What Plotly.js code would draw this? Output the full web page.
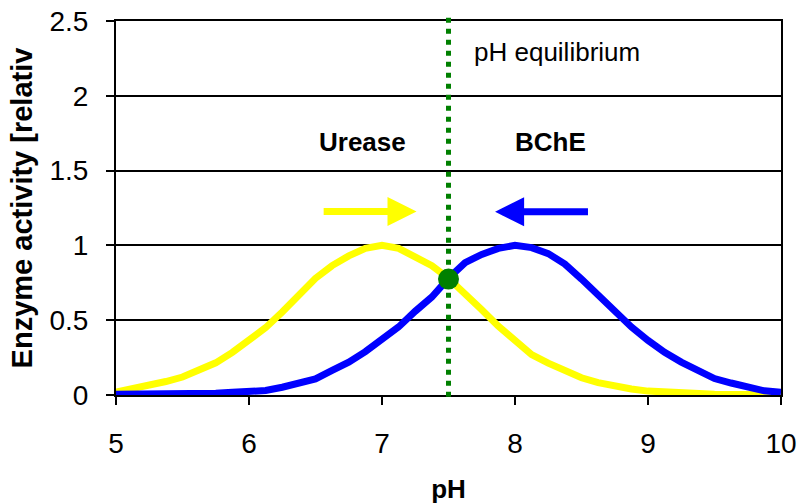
<!DOCTYPE html>
<html>
<head>
<meta charset="utf-8">
<script src="https://cdn.plot.ly/plotly-3.0.1.min.js"></script>
<style>
  html, body { margin: 0; padding: 0; background: #ffffff; }
  #chart { width: 801px; height: 504px; }
</style>
</head>
<body>
<div id="chart"></div>
<script>
// ---- data ----
const pH = [5, 5.125, 5.25, 5.375, 5.5, 5.625, 5.75, 5.875, 6, 6.125, 6.25, 6.375, 6.5, 6.625, 6.75, 6.875,
            7, 7.125, 7.25, 7.375, 7.5, 7.625, 7.75, 7.875, 8, 8.125, 8.25, 8.375, 8.5, 8.625, 8.75, 8.875,
            9, 9.125, 9.25, 9.375, 9.5, 9.625, 9.75, 9.875, 10];
const urease = [0.02, 0.04, 0.065, 0.09, 0.12, 0.165, 0.215, 0.285, 0.37, 0.45, 0.555, 0.66, 0.78, 0.865, 0.93, 0.98,
                1.0, 0.98, 0.925, 0.865, 0.78, 0.68, 0.57, 0.46, 0.36, 0.27, 0.213, 0.16, 0.115, 0.083, 0.06, 0.04,
                0.026, 0.018, 0.012, 0.008, 0.005, 0.004, 0.003, 0.003, 0.003];
const bche = [0.005, 0.005, 0.005, 0.005, 0.005, 0.005, 0.012, 0.018, 0.02, 0.03, 0.052, 0.077, 0.108, 0.165, 0.22, 0.29,
              0.375, 0.455, 0.56, 0.655, 0.78, 0.885, 0.94, 0.98, 1.0, 0.985, 0.945, 0.875, 0.775, 0.665, 0.56, 0.455,
              0.365, 0.285, 0.22, 0.16, 0.11, 0.08, 0.05, 0.028, 0.018];
const equilibriumPH = [7.5];
const equilibriumActivity = [0.775];
const xTicks = [5, 6, 7, 8, 9, 10];
const yTicks = [0, 0.5, 1, 1.5, 2, 2.5];
const yTickLabels = ['0', '0.5', '1', '1.5', '2', '2.5'];
// arrows: [tail pH, head pH, activity level]
const ureaseArrow = [6.55, 7.26, 1.227];
const bcheArrow = [8.56, 7.85, 1.225];
const labelText = { urease: 'Urease', bche: 'BChE', eq: 'pH equilibrium' };
const labelPos = { urease: [6.85, 1.69], bche: [8.27, 1.69], eq: [7.673, 2.293] };

const FONT = 'Liberation Sans, Arial, sans-serif';

const traces = [
  { x: pH, y: urease, type: 'scatter', mode: 'lines', name: 'Urease',
    line: { color: '#FFFF00', width: 7 }, hoverinfo: 'skip' },
  { x: pH, y: bche, type: 'scatter', mode: 'lines', name: 'BChE',
    line: { color: '#0000FF', width: 7 }, hoverinfo: 'skip' },
  { x: equilibriumPH, y: equilibriumActivity, type: 'scatter', mode: 'markers', name: 'equilibrium',
    marker: { color: '#008000', size: 21 }, cliponaxis: false, hoverinfo: 'skip' }
];

const layout = {
  width: 801, height: 504,
  margin: { l: 116, r: 20, t: 21, b: 109 },
  paper_bgcolor: '#ffffff', plot_bgcolor: '#ffffff',
  showlegend: false,
  font: { family: FONT, color: '#000000' },
  xaxis: {
    range: [5, 10], tickvals: xTicks, ticktext: xTicks.map(String),
    showgrid: false, zeroline: false,
    showline: true, linecolor: '#000', linewidth: 2, mirror: true,
    ticks: 'outside', ticklen: 8, tickwidth: 2, tickcolor: '#000',
    tickfont: { family: FONT, size: 28, color: '#000' },
    ticklabelstandoff: 14,
    title: { text: '<b>pH</b>', font: { family: FONT, size: 26, color: '#000' }, standoff: 22 }
  },
  yaxis: {
    range: [0, 2.5], tickvals: yTicks, ticktext: yTickLabels,
    showgrid: true, gridcolor: '#000', gridwidth: 2, zeroline: false,
    showline: true, linecolor: '#000', linewidth: 2, mirror: true,
    ticks: 'outside', ticklen: 8, tickwidth: 2, tickcolor: '#000',
    tickfont: { family: FONT, size: 28, color: '#000' },
    ticklabelstandoff: 12,
    title: { text: '<b>Enzyme activity [relativ</b>', font: { family: FONT, size: 29, color: '#000' }, standoff: 8 }
  },
  shapes: [
    { type: 'line', xref: 'x', yref: 'paper', x0: equilibriumPH[0], x1: equilibriumPH[0], y0: -0.005, y1: 1.02,
      line: { color: '#008000', width: 5, dash: '5px,6px' }, layer: 'above' }
  ],
  annotations: [
    { x: ureaseArrow[1], y: ureaseArrow[2], ax: ureaseArrow[0], ay: ureaseArrow[2], axref: 'x', ayref: 'y',
      xref: 'x', yref: 'y', text: '', showarrow: true, arrowhead: 2, arrowsize: 0.83, arrowwidth: 7,
      arrowcolor: '#FFFF00', standoff: 0 },
    { x: bcheArrow[1], y: bcheArrow[2], ax: bcheArrow[0], ay: bcheArrow[2], axref: 'x', ayref: 'y',
      xref: 'x', yref: 'y', text: '', showarrow: true, arrowhead: 2, arrowsize: 0.83, arrowwidth: 7,
      arrowcolor: '#0000FF', standoff: 0 },
    { x: labelPos.urease[0], y: labelPos.urease[1], xref: 'x', yref: 'y', text: '<b>' + labelText.urease + '</b>',
      showarrow: false, font: { family: FONT, size: 26, color: '#000' }, xanchor: 'center', yanchor: 'middle' },
    { x: labelPos.bche[0], y: labelPos.bche[1], xref: 'x', yref: 'y', text: '<b>' + labelText.bche + '</b>',
      showarrow: false, font: { family: FONT, size: 26, color: '#000' }, xanchor: 'center', yanchor: 'middle' },
    { x: labelPos.eq[0], y: labelPos.eq[1], xref: 'x', yref: 'y', text: labelText.eq,
      showarrow: false, font: { family: FONT, size: 26, color: '#000' }, xanchor: 'left', yanchor: 'middle' }
  ]
};

Plotly.newPlot('chart', traces, layout, { displayModeBar: false, staticPlot: true });
</script>
</body>
</html>
